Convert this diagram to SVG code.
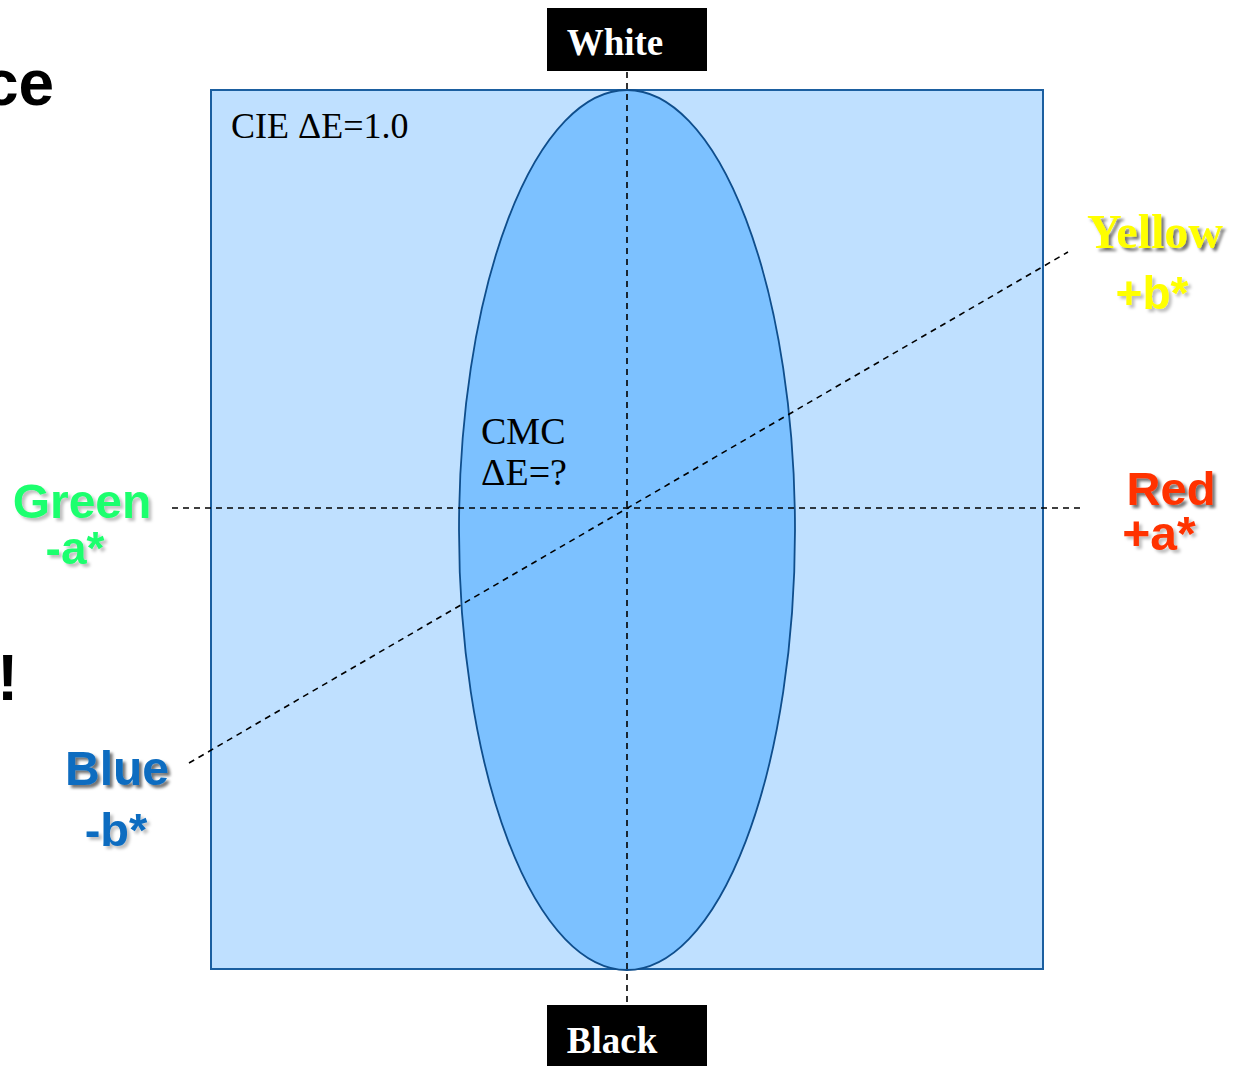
<svg xmlns="http://www.w3.org/2000/svg" width="1241" height="1066" viewBox="0 0 1241 1066">
<style>
.dash{stroke:#000;stroke-width:1.6;stroke-dasharray:6 5;fill:none}
.lbl{font-family:"Liberation Sans",Arial,sans-serif;font-weight:bold}
.ser{font-family:"Liberation Serif","Times New Roman",serif}
.box{fill:#000}
.boxt{font-family:"Liberation Serif","Times New Roman",serif;font-weight:bold;font-size:37px;fill:#fff}
</style>
<defs>
<filter id="sh" x="-20%" y="-20%" width="140%" height="140%">
<feDropShadow dx="3" dy="3" stdDeviation="1.5" flood-color="#000" flood-opacity="0.55"/>
</filter>
<filter id="shl" x="-20%" y="-20%" width="140%" height="140%">
<feDropShadow dx="3" dy="3" stdDeviation="1.5" flood-color="#000" flood-opacity="0.25"/>
</filter>
</defs>
<rect width="1241" height="1066" fill="#fff"/>
<g id="title-fragments">
<text class="lbl" x="-17" y="105" font-size="64" fill="#000">ce</text>
<text class="lbl" x="-3" y="700" font-size="64" fill="#000">!</text>
</g>
<g id="square">
<rect x="211" y="90" width="832" height="879" fill="#BFE0FF" stroke="#1B5FA0" stroke-width="2"/>
<text class="ser" x="231" y="138" font-size="36" fill="#000">CIE ΔE=1.0</text>
</g>
<g id="ellipse">
<ellipse cx="627" cy="530" rx="168" ry="440" fill="#7CC1FF" stroke="#0F4E8C" stroke-width="1.8"/>
<text class="ser" x="481" y="444" font-size="38" fill="#000">CMC</text>
<text class="ser" x="481" y="485" font-size="38" fill="#000">ΔE=?</text>
</g>
<g id="connectors">
<line class="dash" x1="627" y1="72" x2="627" y2="1004"/>
<line class="dash" x1="172" y1="508" x2="1083" y2="508"/>
<line class="dash" x1="189" y1="763" x2="1068" y2="252"/>
</g>
<g id="white">
<rect class="box" x="547" y="8" width="160" height="63"/>
<text class="boxt" x="615" y="55" text-anchor="middle">White</text>
</g>
<g id="black">
<rect class="box" x="547" y="1005" width="160" height="61"/>
<text class="boxt" x="612" y="1053" text-anchor="middle">Black</text>
</g>
<g id="yellow">
<text class="ser" x="1155" y="248" font-size="48" font-weight="bold" fill="#FFFF00" text-anchor="middle" filter="url(#sh)">Yellow</text>
<text class="lbl" x="1152" y="309" font-size="46" fill="#FFFF00" text-anchor="middle" filter="url(#shl)">+b*</text>
</g>
<g id="red">
<text class="lbl" x="1171" y="505" font-size="47" fill="#FF3300" text-anchor="middle" filter="url(#sh)">Red</text>
<text class="lbl" x="1159" y="550" font-size="48" fill="#FF3300" text-anchor="middle" filter="url(#shl)">+a*</text>
</g>
<g id="green">
<text class="lbl" x="82" y="518" font-size="48" fill="#1EFF6E" text-anchor="middle" filter="url(#shl)">Green</text>
<text class="lbl" x="75" y="564" font-size="46" fill="#1EFF6E" text-anchor="middle" filter="url(#shl)">-a*</text>
</g>
<g id="blue">
<text class="lbl" x="117" y="785" font-size="48" fill="#0A6CC0" text-anchor="middle" filter="url(#sh)">Blue</text>
<text class="lbl" x="116" y="846" font-size="47" fill="#0A6CC0" text-anchor="middle" filter="url(#shl)">-b*</text>
</g>
</svg>
